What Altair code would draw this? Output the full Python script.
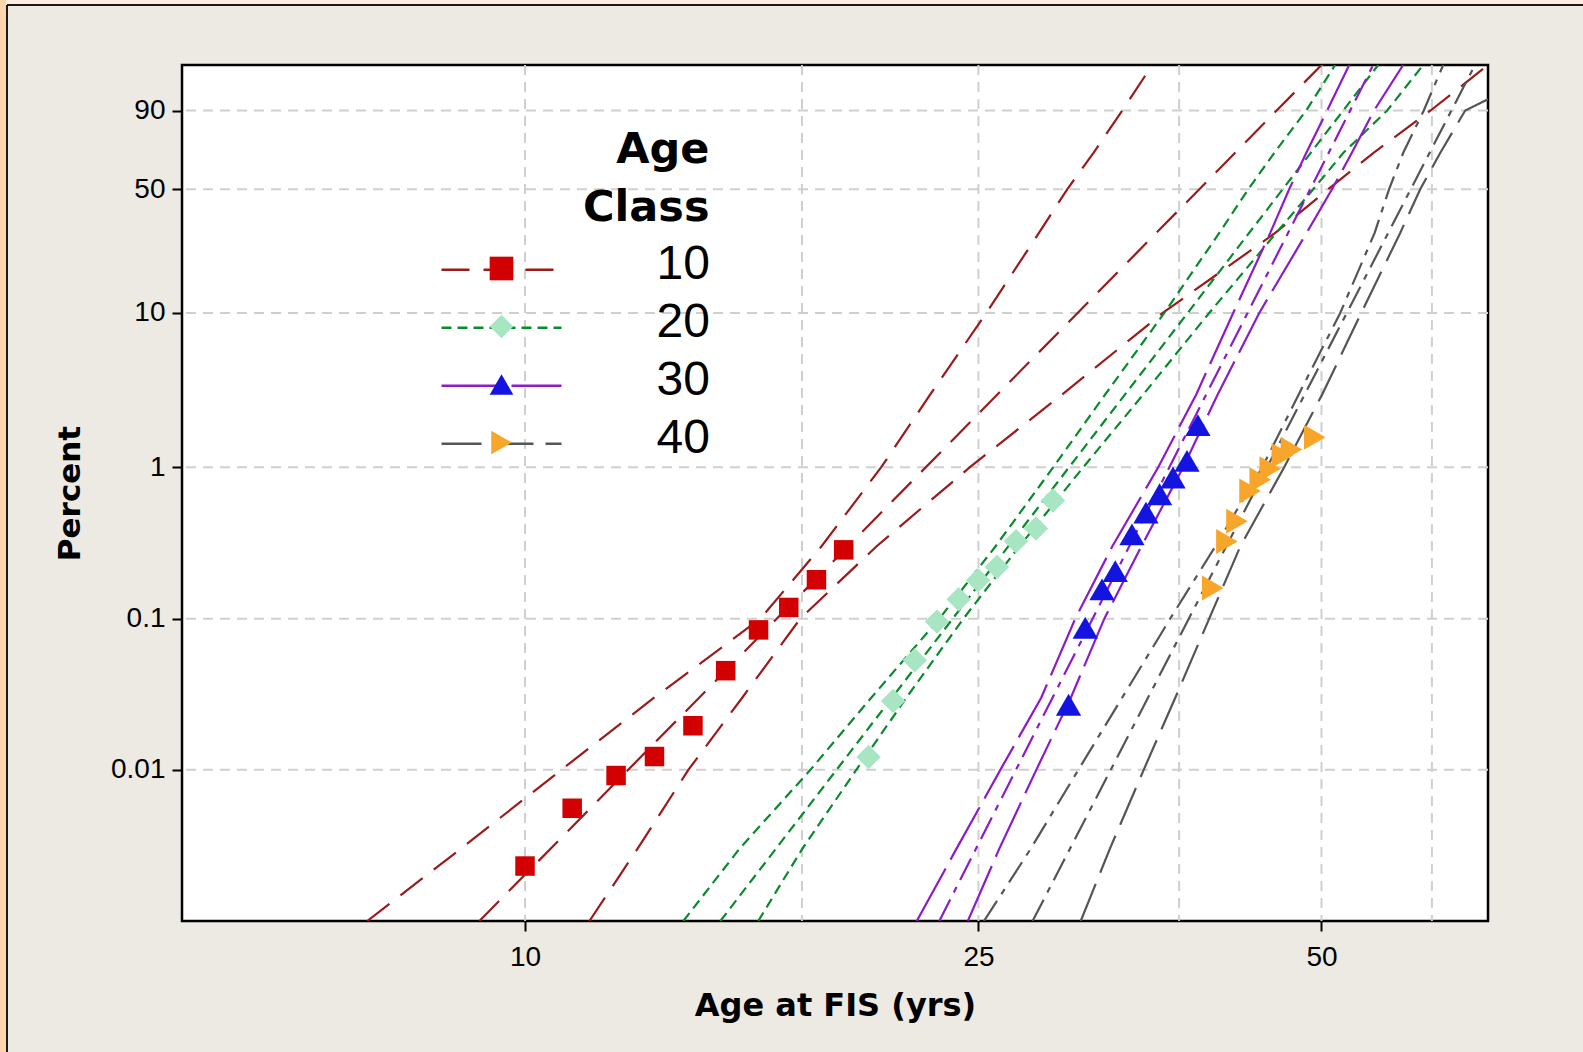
import math
import altair as alt
import pandas as pd

# ---------------- data ----------------
classes = ["10", "20", "30", "40"]
line_colors = ["#9a1b1b", "#0a8a2c", "#8c1cc8", "#555555"]
marker_colors = ["#d20000", "#a8e6c3", "#1414e0", "#f7a52b"]
marker_shapes = ["square", "diamond", "triangle-up", "triangle-right"]
marker_sizes = [380, 600, 640, 620]
legend_dashes = [[28, 14], [10, 6], [60, 10], [40, 12]]

x_domain = [5, 70]
pct_domain = [0.001, 99]
x_tick_vals = [10, 25, 50]
x_grid_vals = [10, 17.5, 25, 37.5, 50, 62.5]
y_tick_pcts = [0.01, 0.1, 1, 10, 50, 90]

# observed points (age, percent)
age10 = [10.0, 11.0, 12.02, 12.99, 14.04, 15.0, 16.03, 17.04, 18.02, 19.04]
pct10 = [0.00231, 0.00557, 0.00917, 0.01225, 0.01958, 0.0453, 0.0843, 0.1186, 0.1808, 0.285]
age20 = [20.02, 21.04, 21.98, 22.99, 24.02, 24.98, 25.95, 26.97, 28.08, 29.06]
pct20 = [0.01218, 0.02855, 0.05305, 0.0956, 0.1346, 0.1796, 0.2194, 0.3249, 0.3949, 0.6039]
age30 = [29.99, 31.02, 32.09, 32.96, 34.09, 35.07, 36.05, 37.04, 38.10, 38.95]
pct30 = [0.02698, 0.0870, 0.1561, 0.2063, 0.3609, 0.5023, 0.6637, 0.8555, 1.101, 1.891]
age40 = [40.14, 41.30, 42.15, 43.28, 44.18, 45.08, 46.20, 47.06, 49.32]
pct40 = [0.1595, 0.3234, 0.4400, 0.6979, 0.8261, 0.9780, 1.1951, 1.3089, 1.5724]

# fitted lines and bounds (age read at these percent levels)
lvl = [0.001, 0.003, 0.01, 0.03, 0.1, 0.3, 1, 3, 10, 30, 50, 70, 90, 99]

red_lo = [7.27, 8.78, 10.76, 12.98, 16.09, 18.20, 20.54, 22.68, 25.40, 28.25, 29.91, 31.53, 33.43, 35.52]
red_fit_age = [9.12, 50.0]
red_fit_pct = [0.001, 99]
red_hi = [11.39, 12.55, 13.91, 15.51, 17.44, 20.34, 24.57, 29.61, 36.28, 45.54, 50.68, 55.51, 62.33, 70.0]

green_lo = [13.77, 15.42, 17.80, 20.13, 23.10, 25.87, 29.08, 32.30, 36.39, 40.67, 43.12, 45.44, 48.48, 51.40]
green_fit_age = [14.84, 56.07]
green_fit_pct = [0.001, 99]
green_hi = [16.02, 17.51, 19.53, 21.61, 24.25, 27.15, 30.90, 34.88, 39.85, 45.63, 49.17, 52.24, 57.10, 61.41]

purple_lo = [22.07, 23.91, 26.13, 28.38, 30.40, 32.76, 35.95, 38.82, 41.83, 45.08, 46.84, 48.48, 50.58, 52.88]
purple_fit_age = [23.10, 55.51]
purple_fit_pct = [0.001, 99]
purple_hi = [24.47, 26.07, 28.10, 30.13, 32.24, 34.74, 37.81, 40.54, 44.09, 48.52, 51.07, 53.15, 55.60, 58.97]

gray_lo = [25.28, 27.78, 30.59, 33.42, 36.83, 40.34, 44.36, 47.75, 51.93, 55.67, 57.31, 58.97, 61.48, 63.94]
gray_fit_age = [27.89, 68.18]
gray_fit_pct = [0.001, 99]
gray_hi = [30.74, 32.60, 34.91, 37.21, 39.85, 42.43, 46.37, 50.07, 54.18, 58.62, 61.04, 63.55, 66.85, 70.0]
gray_hi_pct = [0.001, 0.003, 0.01, 0.03, 0.1, 0.3, 1, 3, 10, 30, 50, 70, 90, 93.5]

# ---------------- tables ----------------
pt_rows = []
for c, ages, pcts in zip(classes, [age10, age20, age30, age40], [pct10, pct20, pct30, pct40]):
    for a, p in zip(ages, pcts):
        pt_rows.append({"cls": c, "age": a, "pct": p})
points_df = pd.DataFrame(pt_rows)

line_specs = [
    ("10", "lo", red_lo, lvl, "legend"),
    ("10", "fit", red_fit_age, red_fit_pct, "legend"),
    ("10", "hi", red_hi, lvl, "legend"),
    ("20", "lo", green_lo, lvl, "legend"),
    ("20", "fit", green_fit_age, green_fit_pct, "legend"),
    ("20", "hi", green_hi, lvl, "legend"),
    ("30", "lo", purple_lo, lvl, "legend"),
    ("30", "fit", purple_fit_age, purple_fit_pct, "dashdot"),
    ("30", "hi", purple_hi, lvl, "legend"),
    ("40", "lo", gray_lo, lvl, "dashdot"),
    ("40", "fit", gray_fit_age, gray_fit_pct, "dashdot"),
    ("40", "hi", gray_hi, gray_hi_pct, "legend"),
]
ln_rows = []
for c, role, ages, pcts, style in line_specs:
    for i, (a, p) in enumerate(zip(ages, pcts)):
        ln_rows.append({"cls": c, "line": c + role, "style": style, "idx": i, "age": a, "pct": p})
lines_df = pd.DataFrame(ln_rows)


def weib(p):
    return math.log(-math.log(1 - p / 100.0))


y_domain = [weib(pct_domain[0]), weib(pct_domain[1])]
y_tick_vals = [weib(p) for p in y_tick_pcts]

W_EXPR = "log(-log(1 - datum.pct/100))"

# ---------------- scales and axes ----------------
x_scale = alt.Scale(type="log", domain=x_domain, nice=False)
y_scale = alt.Scale(domain=y_domain, nice=False, zero=False)

x_axis = alt.Axis(
    values=x_tick_vals, labelExpr="format(datum.value, 'd')", grid=False, domain=False,
    tickSize=10, tickWidth=2, tickColor="black", labelFont="Liberation Sans", labelFontSize=28,
    labelColor="black", labelPadding=12, titleFont="DejaVu Sans", titleFontSize=32,
    titleFontWeight="bold", titleColor="black", titlePadding=19,
)
y_axis = alt.Axis(
    values=y_tick_vals, labelExpr="format(100*(1-exp(-exp(datum.value))), '.2~r')", grid=False,
    domain=False, tickSize=10, tickWidth=2, tickColor="black", labelFont="Liberation Sans",
    labelFontSize=28, labelColor="black", labelPadding=7, titleFont="DejaVu Sans",
    titleFontSize=31, titleFontWeight="bold", titleColor="black", titlePadding=24,
)


def X(field):
    return alt.X(f"{field}:Q", scale=x_scale, axis=x_axis, title="Age at FIS (yrs)")


def Y(field):
    return alt.Y(f"{field}:Q", scale=y_scale, axis=y_axis, title="Percent")


grid_color = "#cfcfcf"

hgrid = (
    alt.Chart(pd.DataFrame({"pct": y_tick_pcts}))
    .transform_calculate(w=W_EXPR)
    .mark_rule(color=grid_color, strokeWidth=2, strokeDash=[10, 7])
    .encode(y=Y("w"))
)
vgrid = (
    alt.Chart(pd.DataFrame({"age": x_grid_vals}))
    .mark_rule(color=grid_color, strokeWidth=2, strokeDash=[10, 7])
    .encode(x=X("age"))
)

LEG_X = 295.5
leg_lines = alt.Legend(
    orient="none", legendX=LEG_X, legendY=64, direction="vertical",
    title=["Age", "Class"], titleFont="DejaVu Sans", titleFontSize=43, titleFontWeight="bold",
    titleColor="black", titleAnchor="end", titleAlign="right", titleLineHeight=58, titlePadding=11,
    labelFont="Liberation Sans", labelFontSize=48, labelColor="black", labelOffset=131,
    symbolType="M-5,0.4H5", symbolSize=576, symbolStrokeWidth=2.5, rowPadding=10, padding=0,
)
leg_marks = alt.Legend(
    orient="none", legendX=LEG_X, legendY=179.5, direction="vertical", title=None,
    labelFont="Liberation Sans", labelFontSize=48, labelOpacity=0, symbolSize=560,
    symbolOpacity=1, symbolStrokeWidth=0, rowPadding=10, padding=0,
)

lines_main = (
    alt.Chart(lines_df)
    .transform_filter(alt.datum.style == "legend")
    .transform_calculate(w=W_EXPR)
    .mark_line(strokeWidth=2.2, clip=True)
    .encode(
        x=X("age"), y=Y("w"),
        color=alt.Color("cls:N", scale=alt.Scale(domain=classes, range=line_colors), legend=leg_lines),
        strokeDash=alt.StrokeDash("cls:N", scale=alt.Scale(domain=classes, range=legend_dashes), legend=leg_lines),
        detail="line:N",
        order="idx:Q",
    )
)
stroke_keys = ["k" + c for c in classes]
lines_dd = (
    alt.Chart(lines_df)
    .transform_filter(alt.datum.style == "dashdot")
    .transform_calculate(w=W_EXPR, ck="'k' + datum.cls")
    .mark_line(strokeWidth=2.2, clip=True, strokeDash=[24, 8, 6, 8])
    .encode(
        x=X("age"), y=Y("w"),
        stroke=alt.Stroke("ck:N", scale=alt.Scale(domain=stroke_keys, range=line_colors), legend=None),
        detail="line:N",
        order="idx:Q",
    )
)

marker_keys = ["m" + c for c in classes]
pt_layers = []
for c, sz in zip(classes, marker_sizes):
    pt_layers.append(
        alt.Chart(points_df)
        .transform_filter(alt.datum.cls == c)
        .transform_calculate(w=W_EXPR, mk="'m' + datum.cls")
        .mark_point(filled=True, opacity=1, strokeWidth=0, size=sz)
        .encode(
            x=X("age"), y=Y("w"),
            fill=alt.Fill("mk:N", scale=alt.Scale(domain=marker_keys, range=marker_colors), legend=leg_marks),
            shape=alt.Shape("mk:N", scale=alt.Scale(domain=marker_keys, range=marker_shapes), legend=leg_marks),
        )
    )

# decorative outer frame
one = pd.DataFrame({"k": [0]})
peach_left = alt.Chart(one).mark_rect(color="#fdd6b0", clip=False).encode(
    x=alt.value(-182), x2=alt.value(-176), y=alt.value(-65), y2=alt.value(987))
peach_top = alt.Chart(one).mark_rect(color="#fdeedf", clip=False).encode(
    x=alt.value(-176), x2=alt.value(1401), y=alt.value(-65), y2=alt.value(-60))
frame_left = alt.Chart(one).mark_rule(color="#1a1a1a", strokeWidth=2, clip=False).encode(
    x=alt.value(-175), y=alt.value(-60), y2=alt.value(987))
frame_top = alt.Chart(one).mark_rule(color="#1a1a1a", strokeWidth=2, clip=False).encode(
    x=alt.value(-175), x2=alt.value(1401), y=alt.value(-60))

chart = (
    alt.layer(peach_left, peach_top, frame_left, frame_top, hgrid, vgrid, lines_main, lines_dd, *pt_layers)
    .properties(
        width=1306, height=856,
        autosize=alt.AutoSizeParams(type="none"),
        padding={"left": 182, "top": 65, "right": 95, "bottom": 131},
        background="#ede9e3",
    )
    .configure_view(stroke="black", strokeWidth=2.5, fill="white")
)

chart.save("out.html", embed_options={"renderer": "svg", "actions": False})
